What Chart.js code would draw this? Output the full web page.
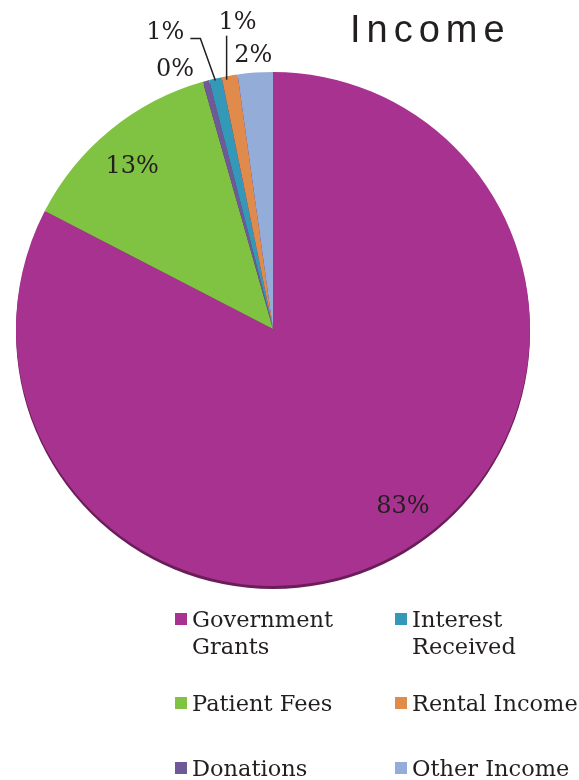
<!DOCTYPE html>
<html>
<head>
<meta charset="utf-8">
<title>Income</title>
<script src="https://cdn.jsdelivr.net/npm/chart.js@4/dist/chart.umd.min.js"></script>
<style>
  html, body { margin: 0; padding: 0; background: #fff; }
  #wrap { position: relative; width: 579px; height: 780px; overflow: hidden; }
  #pie { position: absolute; left: 0; top: 0; }
  #title {
    position: absolute; left: 350px; top: 11px;
    font: 38px "Liberation Sans", Arial, sans-serif;
    letter-spacing: 6px; color: #231f20; line-height: 37px;
  }
  .item {
    position: absolute; display: flex; align-items: flex-start;
    font: 22.5px "DejaVu Serif", serif; line-height: 27px; color: #231f20;
  }
  .item i { display: block; width: 12px; height: 12px; margin: 7px 5px 0 0; flex: none; }
</style>
</head>
<body>
<div id="wrap">
  <canvas id="pie" width="579" height="780"></canvas>
  <div id="title">Income</div>
  <div id="legend"></div>
</div>
<script>
// income split, in percent
let categories = ['Government Grants', 'Patient Fees', 'Donations', 'Interest Received', 'Rental Income', 'Other Income'];
let shares = [82.6, 13.0, 0.4, 0.8, 1.0, 2.2];
let sliceColors = ['#A8328F', '#80C241', '#6E5A96', '#3499B8', '#E08B4C', '#94ADD8'];

// where each percent goes, relative to the slice's mid point
// r = fraction of radius, dx/dy = nudge, line = leader points from the rim
let labelSpots = [
    { r: 0.86, dx: 15, dy: -11 },
    { r: 0.86, dx: -1, dy: 9 },
    { r: 1, dx: -31, dy: -11 },
    { r: 1, dx: -50, dy: -46, line: [[0, 2], [-15, -40], [-25, -40]] },
    { r: 1, dx: 8, dy: -53, line: [[-3, 4], [-3, -40]] },
    { r: 1, dx: -2, dy: -17 }
];

// darker edge under the pie so it looks a bit raised
const pieRim = {
    id: 'pieRim',
    beforeDatasetsDraw(chart) {
        let arc = chart.getDatasetMeta(0).data[0];
        let ctx = chart.ctx;
        ctx.save();
        ctx.fillStyle = '#6a1d58';
        ctx.beginPath();
        ctx.arc(arc.x, arc.y + 3, arc.outerRadius, 0, Math.PI * 2);
        ctx.fill();
        ctx.restore();
    }
};

const percentLabels = {
    id: 'percentLabels',
    afterDatasetsDraw(chart) {
        let ctx = chart.ctx;
        let values = chart.data.datasets[0].data;
        let total = values.reduce((a, b) => a + b, 0);
        ctx.save();
        ctx.font = '24px "DejaVu Serif", serif';
        ctx.fillStyle = '#231f20';
        ctx.strokeStyle = '#231f20';
        ctx.lineWidth = 1.5;
        ctx.textAlign = 'center';
        ctx.textBaseline = 'middle';
        chart.getDatasetMeta(0).data.forEach(function(arc, i) {
            let spot = labelSpots[i];
            let mid = (arc.startAngle + arc.endAngle) / 2;
            let px = arc.x + Math.cos(mid) * arc.outerRadius * spot.r;
            let py = arc.y + Math.sin(mid) * arc.outerRadius * spot.r;
            if (spot.line) {
                ctx.beginPath();
                spot.line.forEach(function(p, j) {
                    if (j == 0) ctx.moveTo(px + p[0], py + p[1]);
                    else ctx.lineTo(px + p[0], py + p[1]);
                });
                ctx.stroke();
            }
            ctx.fillText(Math.round(values[i] / total * 100) + '%', px + spot.dx, py + spot.dy);
        });
        ctx.restore();
    }
};

let chart = new Chart(document.getElementById('pie'), {
    type: 'pie',
    data: {
        labels: categories,
        datasets: [{
            data: shares,
            backgroundColor: sliceColors,
            borderWidth: 0,
            hoverOffset: 0
        }]
    },
    options: {
        responsive: false,
        animation: false,
        layout: { padding: { left: 14, right: 47, top: 72, bottom: 194 } },
        plugins: {
            legend: { display: false },
            tooltip: { enabled: false }
        }
    },
    plugins: [pieRim, percentLabels]
});

// two column legend under the pie
let legendBox = document.getElementById('legend');
let colLeft = [175, 395];
let colWidth = [160, 178];
let rowTop = [606, 690, 755];
chart.options.plugins.legend.labels.generateLabels(chart).forEach(function(item, i) {
    let col = Math.floor(i / 3), row = i % 3;
    let el = document.createElement('div');
    el.className = 'item';
    el.style.left = colLeft[col] + 'px';
    el.style.top = rowTop[row] + 'px';
    el.innerHTML = '<i style="background:' + item.fillStyle + '"></i><span style="max-width:' + colWidth[col] + 'px">' + item.text + '</span>';
    legendBox.appendChild(el);
});
</script>
</body>
</html>
